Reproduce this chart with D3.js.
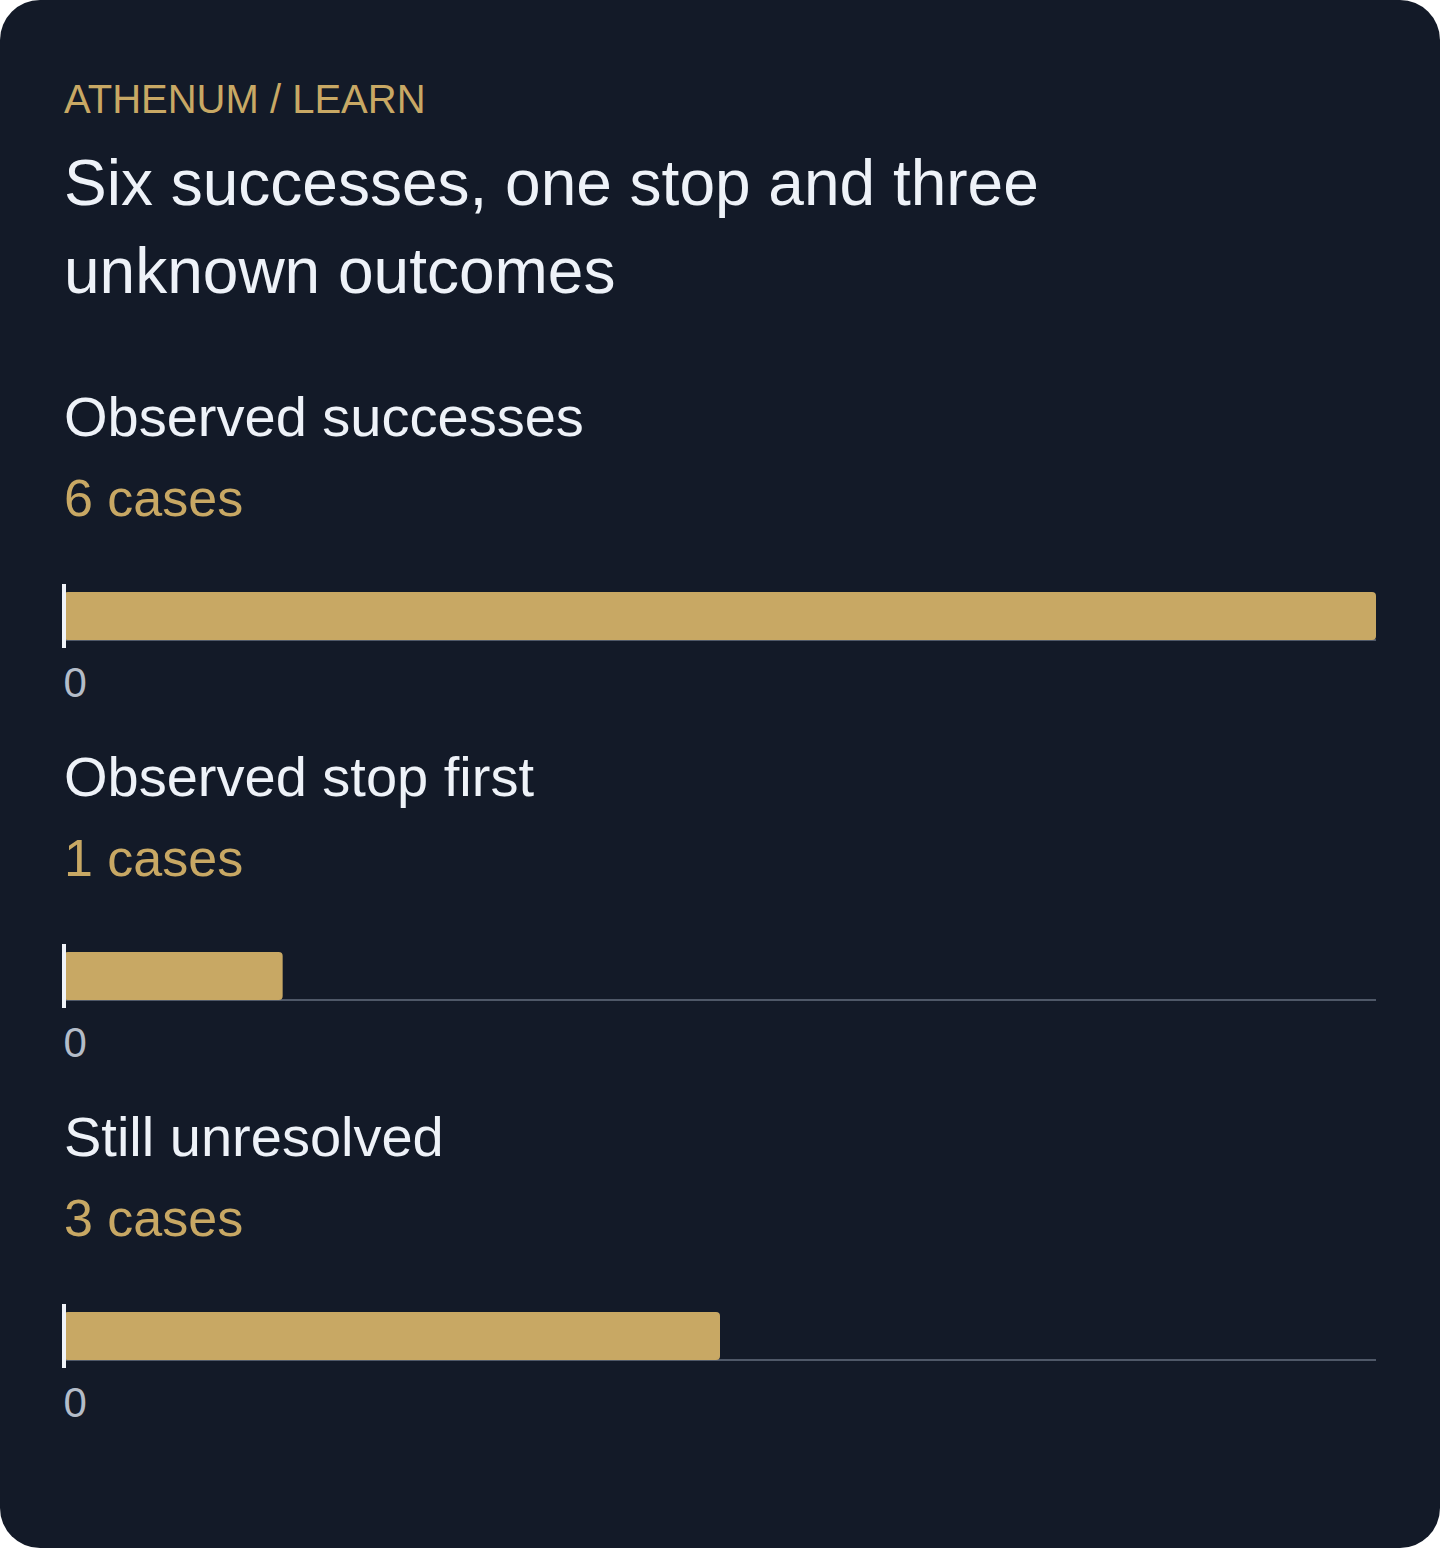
<!DOCTYPE html>
<html>
<head>
<meta charset="utf-8">
<script src="https://cdn.jsdelivr.net/npm/d3@7"></script>
<style>
  body { margin: 0; background: #ffffff; }
  svg { display: block; font-family: "Liberation Sans", Arial, Helvetica, sans-serif; }
</style>
</head>
<body>
<script>
// chart data
const eyebrow = "ATHENUM / LEARN";
const titleLines = ["Six successes, one stop and three", "unknown outcomes"];
const categories = ["Observed successes", "Observed stop first", "Still unresolved"];
const values = [6, 1, 3];
const unit = "cases";
const tickValues = [0];

const W = 1440, H = 1548;
const left = 64, right = 1376;

const svg = d3.select('body').append('svg')
    .attr('width', W)
    .attr('height', H);

svg.append('rect')
    .attr('width', W)
    .attr('height', H)
    .attr('rx', 40)
    .attr('fill', '#131a28');

svg.append('text')
    .attr('x', left)
    .attr('y', 113)
    .attr('fill', '#c8a864')
    .style('font-size', '40px')
    .text(eyebrow);

svg.append('text')
    .attr('fill', '#eef2f8')
    .style('font-size', '64px')
    .selectAll('tspan')
    .data(titleLines)
    .enter()
    .append('tspan')
    .attr('x', left)
    .attr('y', (d, i) => 205 + i * 88)
    .text(d => d);

// shared scale so bars compare across panels
const xScale = d3.scaleLinear()
    .domain([0, d3.max(values)])
    .range([left, right]);

const panels = svg.selectAll('g.panel')
    .data(categories.map((c, i) => ({ cat: c, value: values[i] })))
    .enter()
    .append('g')
    .attr('class', 'panel')
    .attr('transform', (d, i) => `translate(0, ${i * 360})`);

panels.append('text')
    .attr('x', left)
    .attr('y', 436)
    .attr('fill', '#eef2f8')
    .style('font-size', '56px')
    .text(d => d.cat);

panels.append('text')
    .attr('x', left)
    .attr('y', 516)
    .attr('fill', '#c8a864')
    .style('font-size', '52px')
    .text(d => `${d.value} ${unit}`);

// baseline
panels.append('line')
    .attr('x1', xScale(0))
    .attr('x2', xScale.range()[1])
    .attr('y1', 640)
    .attr('y2', 640)
    .attr('stroke', '#4f5868')
    .attr('stroke-width', 2);

panels.append('rect')
    .attr('x', xScale(0))
    .attr('y', 592)
    .attr('width', d => xScale(d.value) - xScale(0))
    .attr('height', 48)
    .attr('rx', 4)
    .attr('fill', '#c8a864');

// zero marker
panels.append('rect')
    .attr('x', xScale(0) - 2)
    .attr('y', 584)
    .attr('width', 4)
    .attr('height', 64)
    .attr('fill', '#f0f3f8');

panels.each(function () {
    const axis = d3.select(this).append('g')
        .attr('transform', 'translate(0, 660)')
        .call(d3.axisBottom(xScale)
            .tickValues(tickValues)
            .tickFormat(d3.format('d'))
            .tickSize(0));
    axis.select('.domain').remove();
    axis.selectAll('text')
        .attr('text-anchor', 'start')
        .attr('dy', 0)
        .attr('x', -1)
        .attr('y', 37)
        .attr('fill', '#b4bcc8')
        .style('font-size', '42px')
        .style('font-family', '"Liberation Sans", Arial, sans-serif');
});
</script>
</body>
</html>
